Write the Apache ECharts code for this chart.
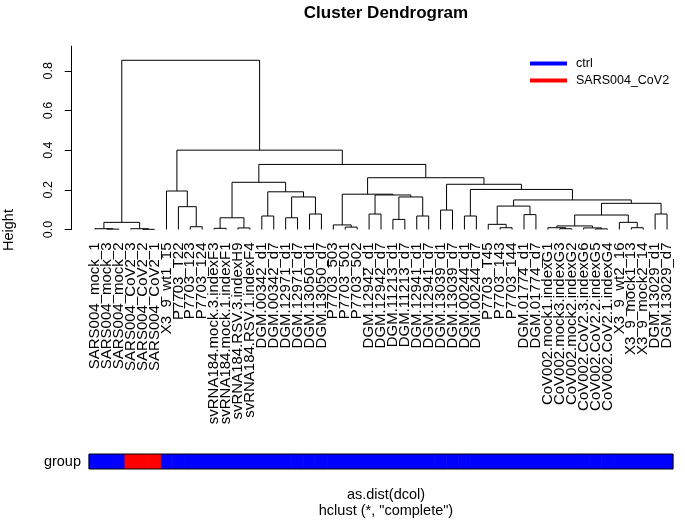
<!DOCTYPE html>
<html><head><meta charset="utf-8">
<script src="https://cdn.jsdelivr.net/npm/echarts@6/dist/echarts.min.js"></script>
<style>html,body{margin:0;padding:0;background:#fff}#c{width:685px;height:520px}</style>
</head><body><div id="c"></div>
<script>
const leafLabels = [
 'SARS004_mock_1','SARS004_mock_3','SARS004_mock_2','SARS004_CoV2_3','SARS004_CoV2_2','SARS004_CoV2_1',
 'X3_9_wt1_15','P7703_T22','P7703_123','P7703_124',
 'svRNA184.mock.3.indexF3','svRNA184.mock.1.indexF1','svRNA184.RSV.3.indexH9','svRNA184.RSV.1.indexF4',
 'DGM.00342_d1','DGM.00342_d7','DGM.12971_d1','DGM.12971_d7','DGM.13050_d1','DGM.13050_d7',
 'P7703_503','P7703_501','P7703_502',
 'DGM.12942_d1','DGM.12942_d7','DGM.11213_d1','DGM.11213_d7','DGM.12941_d1','DGM.12941_d7',
 'DGM.13039_d1','DGM.13039_d7','DGM.00244_d1','DGM.00244_d7',
 'P7703_T45','P7703_143','P7703_144','DGM.01774_d1','DGM.01774_d7',
 'CoV002.mock1.indexG1','CoV002.mock3.indexG3','CoV002.mock2.indexG2',
 'CoV002.CoV2.3.indexG6','CoV002.CoV2.2.indexG5','CoV002.CoV2.1.indexG4',
 'X3_9_wt2_16','X3_9_mock1_13','X3_9_mock2_14','DGM.13029_d1','DGM.13029_d7'
];
const groupNames = ['ctrl', 'SARS004_CoV2'];
const groupColors = ['#0000FF', '#FF0000'];
const leafGroup = leafLabels.map(l => l.indexOf('SARS004_CoV2') === 0 ? 1 : 0);
// hclust-style merges: negative = leaf index (1-based), positive = earlier merge row (1-based)
const mergeLeft  = [-2,-1,-5,-4, 2,-9,-8,-7,-11,-13, 9,-15,-17,-19,13,12,11,-22,-21,-24,-26,-28,21,20,19,-30,-32,-35,-34,-37,29,-40,-39,-43,-42,33,-46,-45,36,-48,39,31,27,26,25,17, 8, 5];
const mergeRight = [-3, 1,-6, 3, 4,-10, 6, 7,-12,-14,10,-16,-18,-20,14,15,16,-23,18,-25,-27,-29,22,23,24,-31,-33,-36,28,-38,30,-41,32,-44,34,35,-47,37,38,-49,40,41,42,43,44,45,46,47];
const mergeHeight = [0.002,0.004,0.001,0.004,0.036,0.014,0.115,0.194,0.006,0.008,0.059,0.068,0.059,0.078,0.164,0.190,0.238,0.012,0.023,0.078,0.051,0.068,0.164,0.174,0.178,0.098,0.068,0.009,0.026,0.075,0.118,0.004,0.009,0.003,0.008,0.018,0.009,0.036,0.073,0.078,0.132,0.149,0.202,0.228,0.261,0.328,0.400,0.853];
const yTicks = [0, 0.2, 0.4, 0.6, 0.8];

const n = leafLabels.length;
const nodeX = [];
const cx = c => c < 0 ? -c : nodeX[c - 1];
const ch = c => c < 0 ? 0 : mergeHeight[c - 1];
const links = [];
for (let k = 0; k < mergeLeft.length; k++) {
  nodeX[k] = (cx(mergeLeft[k]) + cx(mergeRight[k])) / 2;
  links.push([cx(mergeLeft[k]), ch(mergeLeft[k]), cx(mergeRight[k]), ch(mergeRight[k]), mergeHeight[k]]);
}
const barData = groupNames.map((g, gi) => leafGroup.map((v, i) => v === gi ? [i + 1] : null).filter(Boolean));

const F = 'Liberation Sans, Arial, Helvetica, sans-serif';
const FS = 15;
const chart = echarts.init(document.getElementById('c'), null, {renderer: 'canvas'});
chart.setOption({
  animation: false,
  textStyle: {fontFamily: F, color: '#000'},
  title: [
    {text: 'Cluster Dendrogram', left: 381, top: 0, textAlign: 'center',
     textStyle: {fontFamily: F, fontSize: 17, fontWeight: 'bold', color: '#000'}},
    {text: 'as.dist(dcol)\nhclust (*, "complete")', left: 381, top: 482, textAlign: 'center',
     textStyle: {fontFamily: F, fontSize: 14.5, fontWeight: 'normal', color: '#000', lineHeight: 16}}
  ],
  legend: {
    orient: 'vertical', left: 525, top: 52, itemWidth: 37, itemHeight: 4, itemGap: 4,
    icon: 'rect', textStyle: {fontFamily: F, fontSize: 12.5, color: '#000', padding: [0, 0, 0, 4]},
    data: groupNames
  },
  grid: [
    {left: 89, width: 584, top: 46.2, height: 183.3, outerBoundsMode: 'none', containLabel: false},
    {left: 89, width: 584, top: 454, height: 15, outerBoundsMode: 'none', containLabel: false}
  ],
  xAxis: [
    {type: 'category', gridIndex: 0, data: leafLabels, position: 'bottom',
     axisLine: {show: false}, axisTick: {show: false}, splitLine: {show: false},
     axisLabel: {interval: 0, rotate: 90, margin: 13, fontSize: FS, fontFamily: F, color: '#000'}},
    {type: 'value', gridIndex: 0, min: 0.5, max: n + 0.5, show: false},
    {type: 'value', gridIndex: 1, min: 0.5, max: n + 0.5, show: false}
  ],
  yAxis: [
    {type: 'value', gridIndex: 0, min: 0, max: 0.924, offset: 17.3,
     axisLine: {show: true, lineStyle: {color: '#000', width: 1}},
     axisTick: {show: true, length: 7, customValues: yTicks, lineStyle: {color: '#000'}},
     axisLabel: {customValues: yTicks, rotate: 90, margin: 17, fontSize: 12.5, fontFamily: F, color: '#000',
       formatter: v => v.toFixed(1)},
     splitLine: {show: false}},
    {type: 'value', gridIndex: 1, min: 0, max: 1, show: false}
  ],
  graphic: [
    {type: 'text', x: 9, y: 230, rotation: Math.PI / 2,
     style: {text: 'Height', font: '14.5px ' + F, fill: '#000', textAlign: 'center', textVerticalAlign: 'middle'}},
    {type: 'text', x: 81, y: 462, style: {text: 'group', font: '14.5px ' + F, fill: '#000', textAlign: 'right', textVerticalAlign: 'middle'}},
    {type: 'rect', shape: {x: 89, y: 454, width: 584, height: 15}, style: {fill: null, stroke: '#000', lineWidth: 1}, z: 10}
  ],
  series: [
    {type: 'custom', name: 'dendrogram', xAxisIndex: 1, yAxisIndex: 0, clip: false,
     encode: {x: [0, 2], y: [1, 3, 4]}, data: links, silent: true,
     renderItem: (params, api) => {
       const xl = api.value(0), hl = api.value(1), xr = api.value(2), hr = api.value(3), h = api.value(4);
       const pts = [api.coord([xl, hl]), api.coord([xl, h]), api.coord([xr, h]), api.coord([xr, hr])];
       return {type: 'polyline', shape: {points: pts}, style: {stroke: '#000', lineWidth: 1, fill: null}};
     }},
    ...groupNames.map((g, gi) => ({
      type: 'custom', name: g, xAxisIndex: 2, yAxisIndex: 1, data: barData[gi],
      itemStyle: {color: groupColors[gi]}, silent: true,
      renderItem: (params, api) => {
        const a = api.coord([api.value(0) - 0.5, 1]);
        const b = api.coord([api.value(0) + 0.5, 0]);
        return {type: 'rect', shape: {x: a[0] - 0.3, y: a[1], width: b[0] - a[0] + 0.6, height: b[1] - a[1]},
                style: {fill: groupColors[gi], stroke: null, lineWidth: 0}};
      }
    }))
  ]
});
</script></body></html>
